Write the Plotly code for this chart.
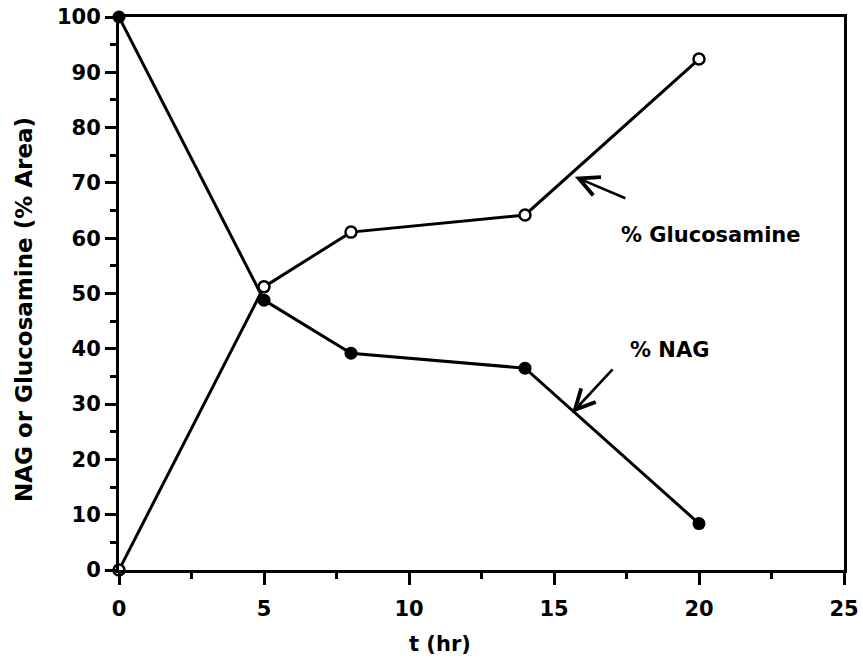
import plotly.graph_objects as go

t_hr = [0, 5, 8, 14, 20]
nag = [100, 48.8, 39.2, 36.5, 8.4]
glucosamine = [0, 51.2, 61.1, 64.2, 92.4]

x_ticks = [0, 5, 10, 15, 20, 25]
y_ticks = [0, 10, 20, 30, 40, 50, 60, 70, 80, 90, 100]

FONT = "DejaVu Sans, Liberation Sans, Arial, sans-serif"

fig = go.Figure()
fig.add_trace(go.Scatter(
    x=t_hr, y=nag, mode="lines+markers",
    line=dict(color="black", width=3),
    marker=dict(symbol="circle", size=13, color="black"),
    cliponaxis=False, showlegend=False))
fig.add_trace(go.Scatter(
    x=t_hr, y=glucosamine, mode="lines+markers",
    line=dict(color="black", width=3),
    marker=dict(symbol="circle", size=11, color="white", line=dict(color="black", width=2.5)),
    cliponaxis=False, showlegend=False))

# arrows
fig.add_annotation(x=15.72, y=71.1, ax=52, ay=22, text="", showarrow=True,
                   arrowhead=5, arrowsize=1.5, arrowwidth=2.6, arrowcolor="black")
fig.add_annotation(x=15.62, y=28.4, ax=42, ay=-45, text="", showarrow=True,
                   arrowhead=5, arrowsize=1.5, arrowwidth=2.6, arrowcolor="black")
# labels
fig.add_annotation(x=20.42, y=60.6, text="% Glucosamine", showarrow=False,
                   font=dict(family=FONT, size=21, color="black", weight="bold"))
fig.add_annotation(x=18.97, y=39.8, text="% NAG", showarrow=False,
                   font=dict(family=FONT, size=21, color="black", weight="bold"))
# axis titles
fig.add_annotation(xref="paper", yref="paper", x=(440 - 119) / 725, y=(570 - 644) / 553,
                   xanchor="center", yanchor="middle",
                   text="t (hr)", showarrow=False,
                   font=dict(family=FONT, size=21, color="black", weight="bold"))
fig.add_annotation(xref="paper", yref="paper", x=(24 - 119) / 725, y=(570 - 310) / 553,
                   xanchor="center", yanchor="middle", textangle=-90,
                   text="NAG or Glucosamine (% Area)", showarrow=False,
                   font=dict(family=FONT, size=23, color="black", weight="bold"))

axis_font = dict(family=FONT, size=21, color="black", weight="bold")
fig.update_xaxes(
    range=[0, 25], tickvals=x_ticks, ticktext=[str(v) for v in x_ticks],
    showline=True, linecolor="black", linewidth=3, mirror=True,
    ticks="outside", ticklen=12, tickwidth=3, tickcolor="black",
    minor=dict(ticks="outside", dtick=2.5, ticklen=6, tickwidth=3, tickcolor="black"),
    showgrid=False, zeroline=False, tickfont=axis_font, automargin=False,
    ticklabelstandoff=6)
fig.update_yaxes(
    range=[0, 100], tickvals=y_ticks, ticktext=[str(v) for v in y_ticks],
    showline=True, linecolor="black", linewidth=3, mirror=True,
    ticks="outside", ticklen=11, tickwidth=3, tickcolor="black",
    minor=dict(ticks="outside", dtick=5, ticklen=6, tickwidth=3, tickcolor="black"),
    showgrid=False, zeroline=False, tickfont=axis_font, automargin=False)

fig.update_layout(
    width=863, height=661,
    margin=dict(l=119, r=19, t=17, b=91, autoexpand=False),
    paper_bgcolor="white", plot_bgcolor="white")

fig.write_html("out.html")
